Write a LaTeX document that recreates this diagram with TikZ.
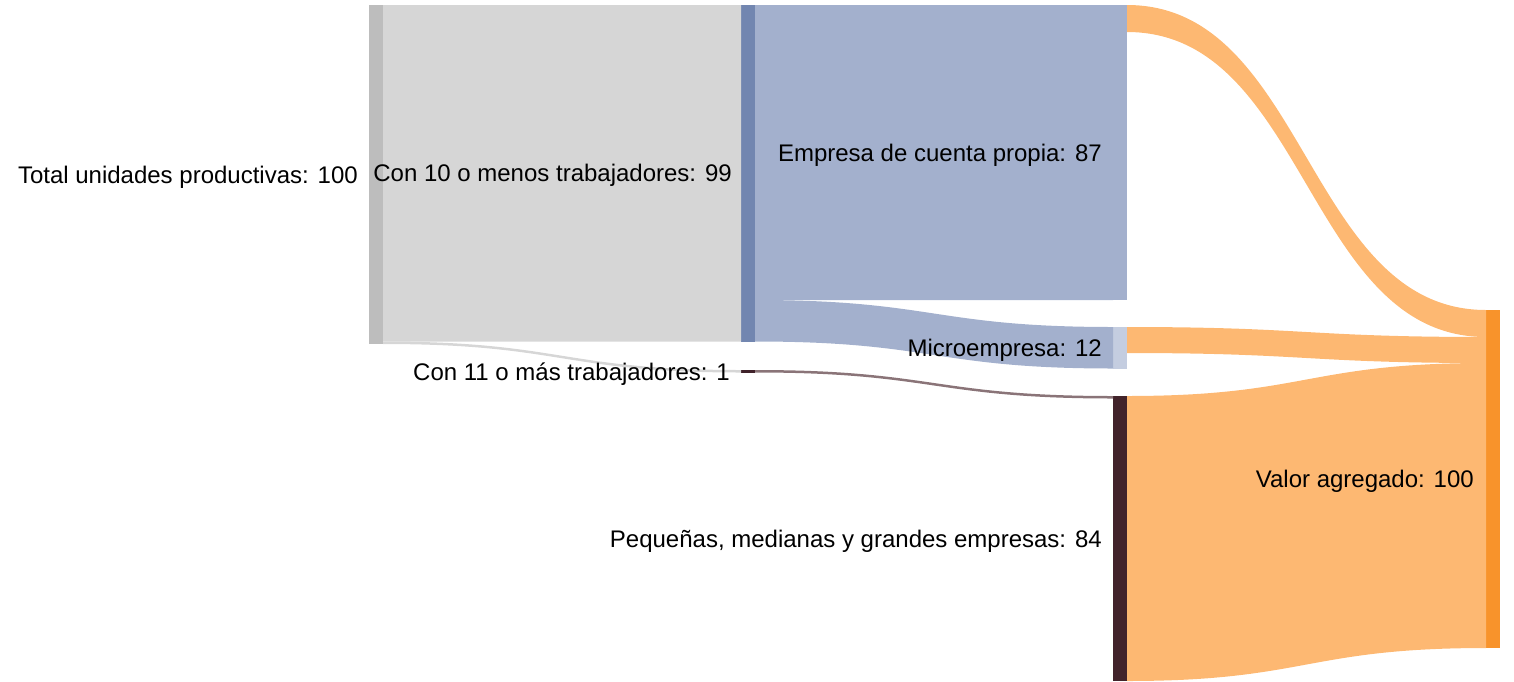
\documentclass[tikz,border=0pt]{standalone}
\usepackage{fontspec}
\setmainfont{Liberation Sans}
\usetikzlibrary{positioning,calc}

\definecolor{totgray}{HTML}{BDBDBD}
\definecolor{flowgray}{HTML}{D6D6D6}
\definecolor{menblue}{HTML}{7286B0}
\definecolor{flowblue}{HTML}{A3B0CD}
\definecolor{micblue}{HTML}{C4CDE0}
\definecolor{masdark}{HTML}{3F2129}
\definecolor{flowbrown}{HTML}{8A7478}
\definecolor{pygdark}{HTML}{42232B}
\definecolor{vaorange}{HTML}{F8932B}
\definecolor{floworange}{HTML}{FDB872}

% band from the east side of #1 to the west side of #3
\newcommand{\band}[6]{%
  \fill[#6] let \p1 = ($(#1.north east)+(0pt,-#2pt)$), \p2 = ($(#3.north west)+(0pt,-#4pt)$), \n1 = {(\x1+\x2)/2} in
    (\p1) .. controls (\n1,\y1) and (\n1,\y2) .. (\p2)
    -- ($(\p2)+(0pt,-#5pt)$) .. controls (\n1,\y2-#5pt) and (\n1,\y1-#5pt) .. ($(\p1)+(0pt,-#5pt)$) -- cycle;}

\begin{document}
\begin{tikzpicture}[x=1pt, y=-1pt,
    bar/.style = {rectangle, inner sep=0pt, outer sep=0pt, minimum width=14pt, anchor=north west},
    lbl/.style = {inner sep=0pt, yshift=-2.5pt, font=\fontsize{24}{28}\selectfont}]
  \useasboundingbox (0,0) rectangle (1514,681);
  \node[bar, fill=totgray, minimum height=339pt] (tot) at (369,5) {};
  \node[bar, fill=menblue, minimum height=336.5pt] (c10) at (741,5) {};
  \node[bar, fill=masdark, minimum height=2.5pt] (c11) at (741,370) {};
  \node[bar, fill=flowblue, minimum height=295pt] (emp) at (1113,5) {};
  \node[bar, fill=micblue, minimum height=41.5pt] (mic) at (1113,327) {};
  \node[bar, fill=pygdark, minimum height=285pt] (pyg) at (1113,396) {};
  \node[bar, fill=vaorange, minimum height=338pt] (va) at (1486,310) {};

  \band{tot}{0}{c10}{0}{336.5}{flowgray}
  \band{tot}{336.5}{c11}{0}{2.5}{flowgray}
  \band{c10}{0}{emp}{0}{295}{flowblue}
  \band{c10}{295}{mic}{0}{41.5}{flowblue}
  \band{c11}{0}{pyg}{0}{2.5}{flowbrown}
  \band{emp}{0}{va}{0}{27}{floworange}
  \band{mic}{0}{va}{27}{26}{floworange}
  \band{pyg}{0}{va}{53}{285}{floworange}

  \node[lbl, left=11pt of tot] (tot-l) {Total unidades productivas: 100};
  \node[lbl, left=9pt of c10] (c10-l) {Con 10 o menos trabajadores: 99};
  \node[lbl, left=11pt of c11] (c11-l) {Con 11 o más trabajadores: 1};
  \node[lbl, left=11pt of emp] (emp-l) {Empresa de cuenta propia: 87};
  \node[lbl, left=11pt of mic] (mic-l) {Microempresa: 12};
  \node[lbl, left=11pt of pyg] (pyg-l) {Pequeñas, medianas y grandes empresas: 84};
  \node[lbl, left=12pt of va] (va-l) {Valor agregado: 100};
\end{tikzpicture}
\end{document}
